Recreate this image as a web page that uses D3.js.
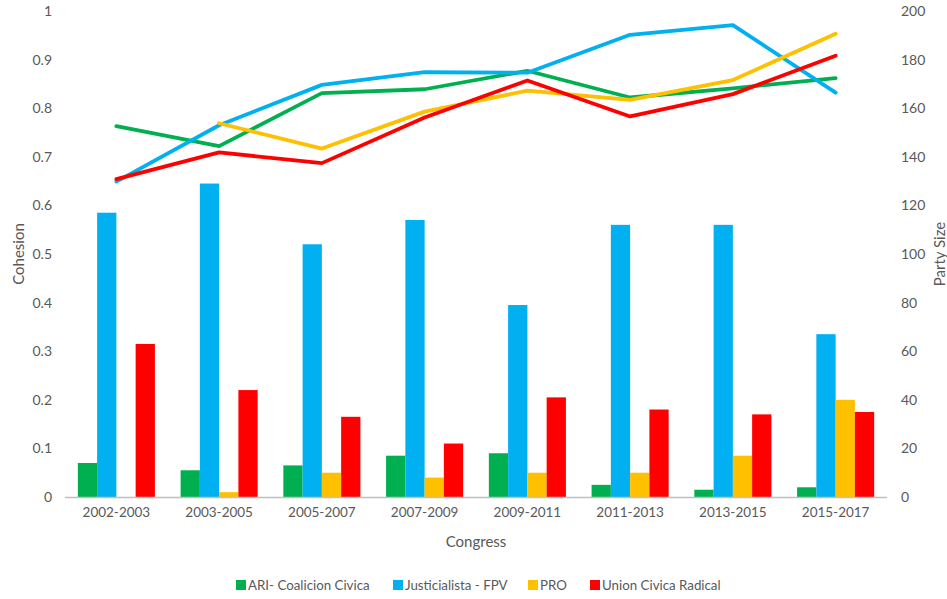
<!DOCTYPE html>
<html>
<head>
<meta charset="utf-8">
<script src="https://cdn.jsdelivr.net/npm/d3@7"></script>
<style>
  html, body { margin: 0; padding: 0; background: #fff; }
  text { font-family: Lato, "Open Sans", sans-serif; fill: #595959; }
</style>
</head>
<body>
<svg id="chart" width="947" height="599"></svg>
<script>
const congresses = ["2002-2003","2003-2005","2005-2007","2007-2009","2009-2011","2011-2013","2013-2015","2015-2017"];
const parties = ["ARI- Coalicion Civica","Justicialista - FPV","PRO","Union Civica Radical"];
const colors = ["#00B050","#00B0F0","#FFC000","#FF0000"];

// Party size (bars, right axis)
const sizeARI = [14, 11, 13, 17, 18, 5, 3, 4];
const sizePJ  = [117, 129, 104, 114, 79, 112, 112, 67];
const sizePRO = [0, 2, 10, 8, 10, 10, 17, 40];
const sizeUCR = [63, 44, 33, 22, 41, 36, 34, 35];

// Cohesion (lines, left axis)
const cohARI = [0.763, 0.722, 0.831, 0.839, 0.877, 0.822, 0.841, 0.862];
const cohPJ  = [0.649, 0.765, 0.848, 0.874, 0.873, 0.951, 0.971, 0.832];
const cohPRO = [null, 0.769, 0.717, 0.793, 0.836, 0.817, 0.858, 0.953];
const cohUCR = [0.654, 0.709, 0.687, 0.781, 0.857, 0.783, 0.829, 0.908];

const leftTicks = [0, 0.1, 0.2, 0.3, 0.4, 0.5, 0.6, 0.7, 0.8, 0.9, 1];
const rightTicks = [0, 20, 40, 60, 80, 100, 120, 140, 160, 180, 200];

const sizes = [sizeARI, sizePJ, sizePRO, sizeUCR];
const cohs = [cohARI, cohPJ, cohPRO, cohUCR];

const svg = d3.select("#chart");
const L = 65, R = 887, T = 11, B = 497;

const x = d3.scaleBand().domain(congresses).range([L, R]).paddingInner(0.25).paddingOuter(0.125);
const xs = d3.scaleBand().domain(d3.range(parties.length)).range([0, x.bandwidth()]).padding(0);
const yL = d3.scaleLinear().domain([0, 1]).range([B, T]);
const yR = d3.scaleLinear().domain([0, 200]).range([B, T]);

// Bars
const gBars = svg.append("g");
congresses.forEach((c, i) => {
  parties.forEach((p, j) => {
    const v = sizes[j][i];
    if (!v) return;
    gBars.append("rect")
      .attr("x", x(c) + xs(j))
      .attr("y", yR(v))
      .attr("width", xs.bandwidth())
      .attr("height", yR(0) - yR(v))
      .attr("fill", colors[j]);
  });
});

// X axis line
svg.append("line").attr("x1", L).attr("x2", R).attr("y1", B + 0.5).attr("y2", B + 0.5)
  .attr("stroke", "#bfbfbf").attr("stroke-width", 1.5);

// Lines
const line = d3.line()
  .defined(d => d.v != null)
  .x(d => x(d.c) + x.bandwidth() / 2)
  .y(d => yL(d.v));
cohs.forEach((arr, j) => {
  svg.append("path")
    .datum(congresses.map((c, i) => ({c, v: arr[i]})))
    .attr("d", line)
    .attr("fill", "none")
    .attr("stroke", colors[j])
    .attr("stroke-width", 3.8)
    .attr("stroke-linejoin", "round")
    .attr("stroke-linecap", "round");
});

// Left axis
const axL = d3.axisLeft(yL).tickValues(leftTicks).tickSize(0).tickPadding(0)
  .tickFormat(d => d === 0 ? "0" : d === 1 ? "1" : d3.format(".1f")(d));
const gL = svg.append("g").attr("transform", `translate(52,0)`).call(axL);
gL.select(".domain").remove();
gL.selectAll("text").style("font-size", "14px").attr("fill", "#595959").style("font-family", "Lato, sans-serif");

// Right axis
const axR = d3.axisRight(yR).tickValues(rightTicks).tickSize(0).tickPadding(0);
const gR = svg.append("g").attr("transform", `translate(901,0)`).call(axR);
gR.select(".domain").remove();
gR.selectAll("text").style("font-size", "14px").attr("fill", "#595959").style("font-family", "Lato, sans-serif");

// Bottom axis labels
const axB = d3.axisBottom(x).tickSize(0).tickPadding(0);
const gB = svg.append("g").attr("transform", `translate(0,507)`).call(axB);
gB.select(".domain").remove();
gB.selectAll("text").style("font-size", "13.5px").attr("fill", "#595959").style("font-family", "Lato, sans-serif");

// Axis titles
svg.append("text").attr("transform", `translate(24,${(T + B) / 2}) rotate(-90)`)
  .attr("text-anchor", "middle").style("font-size", "15px").text("Cohesion");
svg.append("text").attr("transform", `translate(945,${(T + B) / 2}) rotate(-90)`)
  .attr("text-anchor", "middle").style("font-size", "15px").text("Party Size");
svg.append("text").attr("x", (L + R) / 2).attr("y", 547)
  .attr("text-anchor", "middle").style("font-size", "15px").text("Congress");

// Legend
const legendX = [236, 393, 528, 590];
const gLeg = svg.append("g");
parties.forEach((p, j) => {
  gLeg.append("rect").attr("x", legendX[j]).attr("y", 580).attr("width", 10).attr("height", 10).attr("fill", colors[j]);
  gLeg.append("text").attr("x", legendX[j] + 12).attr("y", 590).style("font-size", "13.3px").text(p);
});
</script>
</body>
</html>
